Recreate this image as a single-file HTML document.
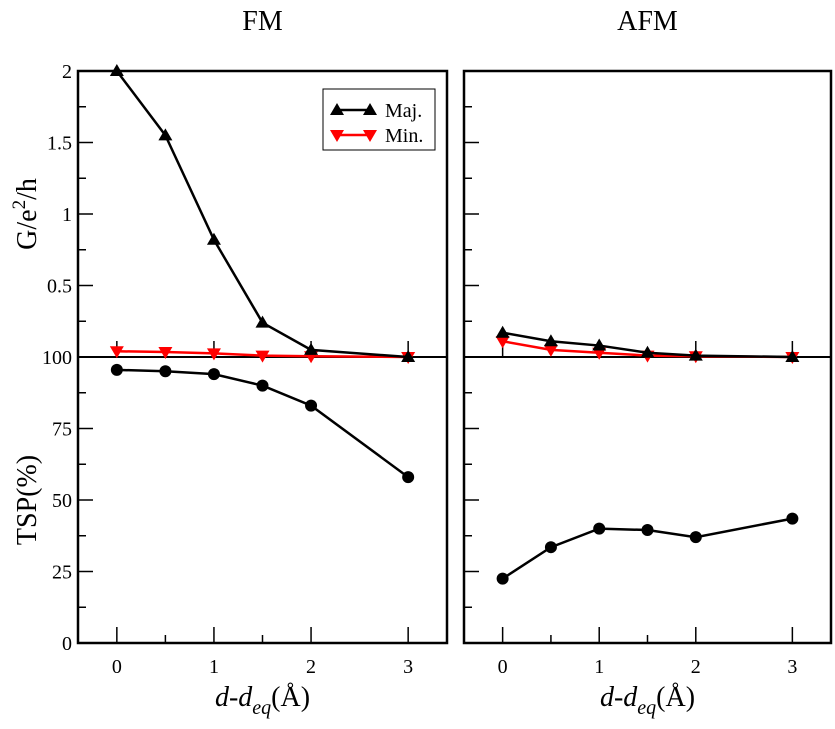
<!DOCTYPE html>
<html><head><meta charset="utf-8"><style>
body{margin:0;background:#fff}
svg{font-family:"Liberation Serif",serif}
</style></head><body>
<svg id="c" width="835" height="724" xmlns="http://www.w3.org/2000/svg"></svg>
<script>
const xVals=[0,0.5,1,1.5,2,3];
const fmMaj=[2,1.55,0.82,0.24,0.05,0];
const fmMin=[0.04,0.035,0.025,0.01,0.005,0];
const fmTsp=[95.5,95,94,90,83,58];
const afmMaj=[0.17,0.11,0.08,0.03,0.01,0];
const afmMin=[0.11,0.05,0.03,0.01,0.005,0];
const afmTsp=[22.5,33.5,40,39.5,37,43.5];
const gTicks=[0.5,1,1.5,2];
const tspTicks=[0,25,50,75,100];
const xTicks=[0,1,2,3];
const NS="http://www.w3.org/2000/svg";
const svg=document.getElementById('c');
function el(t,a,p){const e=document.createElementNS(NS,t);for(const k in a)e.setAttribute(k,a[k]);(p||svg).appendChild(e);return e;}
const top0=71,mid=357,bot=643;
const yG=v=>mid-(v/2)*(mid-top0);
const yT=v=>bot-(v/100)*(bot-mid);
const panels=[{x0:78,x1:447,name:'fm',title:'FM',maj:fmMaj,min:fmMin,tsp:fmTsp},{x0:464,x1:831,name:'afm',title:'AFM',maj:afmMaj,min:afmMin,tsp:afmTsp}];
panels.forEach((P,pi)=>{
  const xs=v=>P.x0+(v+0.4)/3.8*(P.x1-P.x0);
  const g=el('g',{});
  
  
  el('rect',{x:P.x0,y:top0,width:P.x1-P.x0,height:bot-top0,fill:'none',stroke:'#000','stroke-width':2.5},g);
  el('line',{x1:P.x0,x2:P.x1,y1:mid,y2:mid,stroke:'#000','stroke-width':2},g);
  const t=el('text',{x:(P.x0+P.x1)/2,y:30,'text-anchor':'middle','font-size':28},g);t.textContent=P.title;
  
  for(let v=0.25;v<2;v+=0.25){const L=(Math.abs(v*2-Math.round(v*2))<1e-6)?15:8;el('line',{x1:P.x0,x2:P.x0+L,y1:yG(v),y2:yG(v),stroke:'#000','stroke-width':1.5},g);}
  for(let v=12.5;v<100;v+=12.5){const L=(v%25===0)?15:8;el('line',{x1:P.x0,x2:P.x0+L,y1:yT(v),y2:yT(v),stroke:'#000','stroke-width':1.5},g);}
  xTicks.forEach(v=>{el('line',{x1:xs(v),x2:xs(v),y1:bot,y2:bot-16,stroke:'#000','stroke-width':1.5},g);el('line',{x1:xs(v),x2:xs(v),y1:mid,y2:mid-16,stroke:'#000','stroke-width':1.5},g);
    const tl=el('text',{x:xs(v),y:673,'text-anchor':'middle','font-size':20},g);tl.textContent=v;
    });
  [0.5,1.5].forEach(v=>el('line',{x1:xs(v),x2:xs(v),y1:bot,y2:bot-8,stroke:'#000','stroke-width':1.5},g));
  const xt=el('text',{x:(P.x0+P.x1)/2,y:706,'text-anchor':'middle','font-size':28},g);
  xt.innerHTML='<tspan font-style="italic">d</tspan>-<tspan font-style="italic">d</tspan><tspan font-style="italic" font-size="20" dy="8">eq</tspan><tspan dy="-8">(Å)</tspan>';
  
  function series(vals,ys,color,marker,name){
    const pts=vals.map((v,i)=>[xs(xVals[i]),ys(v)]);
    const pl=el('polyline',{points:pts.map(p=>p.join(',')).join(' '),fill:'none',stroke:color,'stroke-width':2.5},g);
    
    pts.forEach(([x,y])=>{let m;
      if(marker==='up')m=el('polygon',{points:`${x},${y-7} ${x-7},${y+5} ${x+7},${y+5}`,fill:color},g);
      else if(marker==='down')m=el('polygon',{points:`${x},${y+7} ${x-7},${y-5} ${x+7},${y-5}`,fill:color},g);
      else m=el('circle',{cx:x,cy:y,r:6,fill:color},g);
      });
  }
  series(P.min,yG,'#f00','down',P.name+'-min');
  series(P.maj,yG,'#000','up',P.name+'-maj');
  series(P.tsp,yT,'#000','circle',P.name+'-tsp');
  if(pi===0){
    gTicks.forEach(v=>{const l=el('text',{x:72,y:yG(v)+7,'text-anchor':'end','font-size':20},g);l.textContent=v;});
    tspTicks.forEach(v=>{const l=el('text',{x:72,y:yT(v)+7,'text-anchor':'end','font-size':20},g);l.textContent=v;});
    const y1=el('text',{x:0,y:0,'text-anchor':'middle','font-size':28,transform:'translate(36,214) rotate(-90)'},g);
    y1.innerHTML='G/e<tspan font-size="19" dy="-11">2</tspan><tspan dy="11">/h</tspan>';
    
    const y2=el('text',{x:0,y:0,'text-anchor':'middle','font-size':28,transform:'translate(36,500) rotate(-90)'},g);
    y2.textContent='TSP(%)';
    const lg=el('g',{},g);
    el('rect',{x:323,y:89,width:112,height:61,fill:'#fff',stroke:'#000','stroke-width':1},lg);
    el('line',{x1:337,x2:370,y1:110,y2:110,stroke:'#000','stroke-width':2.5},lg);
    [337,370].forEach(x=>el('polygon',{points:`${x},${103} ${x-7},${115} ${x+7},${115}`,fill:'#000'},lg));
    el('line',{x1:337,x2:370,y1:135,y2:135,stroke:'#f00','stroke-width':2.5},lg);
    [337,370].forEach(x=>el('polygon',{points:`${x},${142} ${x-7},${130} ${x+7},${130}`,fill:'#f00'},lg));
    const a=el('text',{x:385,y:117,'font-size':20},lg);a.textContent='Maj.';
    const b=el('text',{x:385,y:142,'font-size':20},lg);b.textContent='Min.';
  }
});
</script>
</body></html>
